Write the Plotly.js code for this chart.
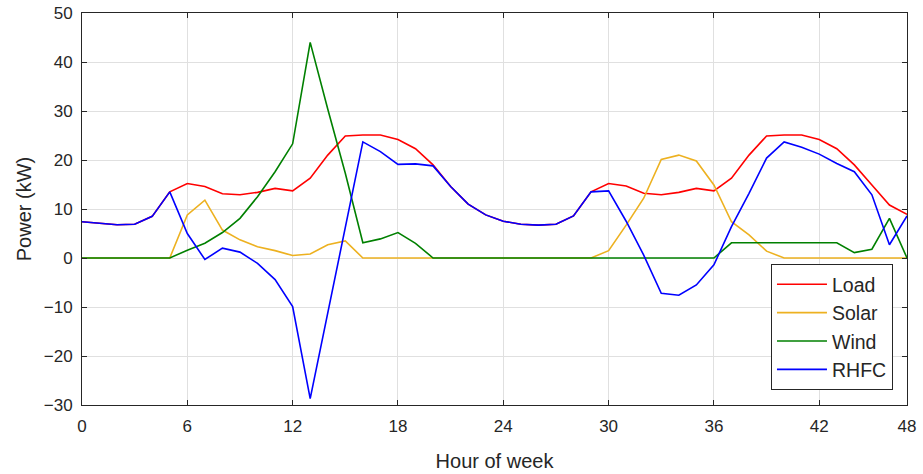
<!DOCTYPE html>
<html>
<head>
<meta charset="utf-8">
<script src="https://cdn.plot.ly/plotly-3.0.1.min.js"></script>
<style>
html, body { margin: 0; padding: 0; background: #ffffff; }
#chart { width: 923px; height: 474px; }
</style>
</head>
<body>
<div id="chart"></div>
<script>
// Hour index of each sample
var hours = [0, 1, 2, 3, 4, 5, 6, 7, 8, 9, 10, 11, 12, 13, 14, 15, 16, 17, 18, 19, 20, 21, 22, 23,
             24, 25, 26, 27, 28, 29, 30, 31, 32, 33, 34, 35, 36, 37, 38, 39, 40, 41, 42, 43, 44, 45, 46, 47];

// Power values (kW)
var load = [7.4, 7.1, 6.8, 6.9, 8.5, 13.5, 15.2, 14.6, 13.1, 12.9, 13.4, 14.2, 13.7, 16.3, 21.0, 24.9, 25.1, 25.1, 24.2, 22.3, 19.0, 14.6, 11.0, 8.8,
            7.5, 6.9, 6.7, 6.9, 8.6, 13.5, 15.2, 14.7, 13.2, 12.9, 13.4, 14.2, 13.7, 16.3, 21.0, 24.9, 25.1, 25.1, 24.2, 22.3, 19.0, 14.9, 10.8, 8.9];

var solar = [0, 0, 0, 0, 0, 0, 8.8, 11.8, 5.7, 3.7, 2.3, 1.5, 0.5, 0.8, 2.7, 3.5, 0, 0, 0, 0, 0, 0, 0, 0,
             0, 0, 0, 0, 0, 0, 1.5, 6.7, 12.2, 20.1, 21.0, 19.8, 14.9, 7.4, 4.7, 1.4, 0, 0, 0, 0, 0, 0, 0, 0];

var wind = [0, 0, 0, 0, 0, 0, 1.6, 3.0, 5.2, 8.1, 12.5, 17.6, 23.3, 44.0, 30.4, 17.3, 3.1, 3.9, 5.2, 3.0, 0, 0, 0, 0,
            0, 0, 0, 0, 0, 0, 0, 0, 0, 0, 0, 0, 0, 3.1, 3.1, 3.1, 3.1, 3.1, 3.1, 3.1, 1.1, 1.8, 8.1, 0];

var rhfc = [7.4, 7.1, 6.8, 6.9, 8.5, 13.5, 5.0, -0.3, 2.0, 1.2, -1.1, -4.4, -9.9, -28.7, -11.3, 6.2, 23.7, 21.7, 19.1, 19.2, 18.8, 14.6, 11.0, 8.8,
            7.5, 6.9, 6.7, 6.9, 8.6, 13.5, 13.7, 7.5, 0.6, -7.2, -7.6, -5.5, -1.4, 6.4, 13.2, 20.4, 23.7, 22.6, 21.2, 19.3, 17.6, 12.9, 2.7, 8.6];

// Axis ticks
var xTickVals = [0, 6, 12, 18, 24, 30, 36, 42, 47];
var xTickText = ['0', '6', '12', '18', '24', '30', '36', '42', '48'];
var yTickVals = [-30, -20, -10, 0, 10, 20, 30, 40, 50];

var seriesNames = ['Load', 'Solar', 'Wind', 'RHFC'];
var seriesData = [load, solar, wind, rhfc];
var seriesColors = ['#ff0000', '#edb120', '#008000', '#0000ff'];

var traces = seriesData.map(function (vals, i) {
  return {
    x: hours,
    y: vals,
    type: 'scatter',
    mode: 'lines',
    name: seriesNames[i],
    line: { color: seriesColors[i], width: 1.6 }
  };
});

var textColor = '#262626';
var font = 'Liberation Sans, Arial, Helvetica, sans-serif';

var layout = {
  width: 923,
  height: 474,
  margin: { l: 82, r: 16, t: 13, b: 69 },
  paper_bgcolor: '#ffffff',
  plot_bgcolor: '#ffffff',
  font: { family: font, color: textColor, size: 17 },
  showlegend: true,
  legend: {
    x: 0.983, y: 0.038, xanchor: 'right', yanchor: 'bottom',
    bgcolor: '#ffffff', bordercolor: '#262626', borderwidth: 1,
    font: { family: font, size: 19.5, color: textColor },
    itemwidth: 50,
    tracegroupgap: 0
  },
  xaxis: {
    range: [0, 47],
    tickmode: 'array',
    tickvals: xTickVals,
    ticktext: xTickText,
    ticks: 'inside', ticklen: 5, tickcolor: textColor, tickwidth: 1,
    showline: true, linecolor: textColor, linewidth: 1, mirror: 'ticks',
    showgrid: true, gridcolor: '#e0e0e0', gridwidth: 1,
    zeroline: false,
    ticklabelstandoff: 6,
    tickfont: { family: font, size: 17, color: textColor },
    title: { text: 'Hour of week', font: { family: font, size: 20, color: textColor }, standoff: 18 }
  },
  yaxis: {
    range: [-30, 50],
    tickmode: 'array',
    tickvals: yTickVals,
    ticks: 'inside', ticklen: 5, tickcolor: textColor, tickwidth: 1,
    showline: true, linecolor: textColor, linewidth: 1, mirror: 'ticks',
    showgrid: true, gridcolor: '#e0e0e0', gridwidth: 1,
    zeroline: false,
    ticklabelstandoff: 5,
    tickfont: { family: font, size: 17, color: textColor },
    title: { text: 'Power (kW)', font: { family: font, size: 20, color: textColor }, standoff: 6 }
  }
};

Plotly.newPlot('chart', traces, layout, { displayModeBar: false, staticPlot: true });
</script>
</body>
</html>
